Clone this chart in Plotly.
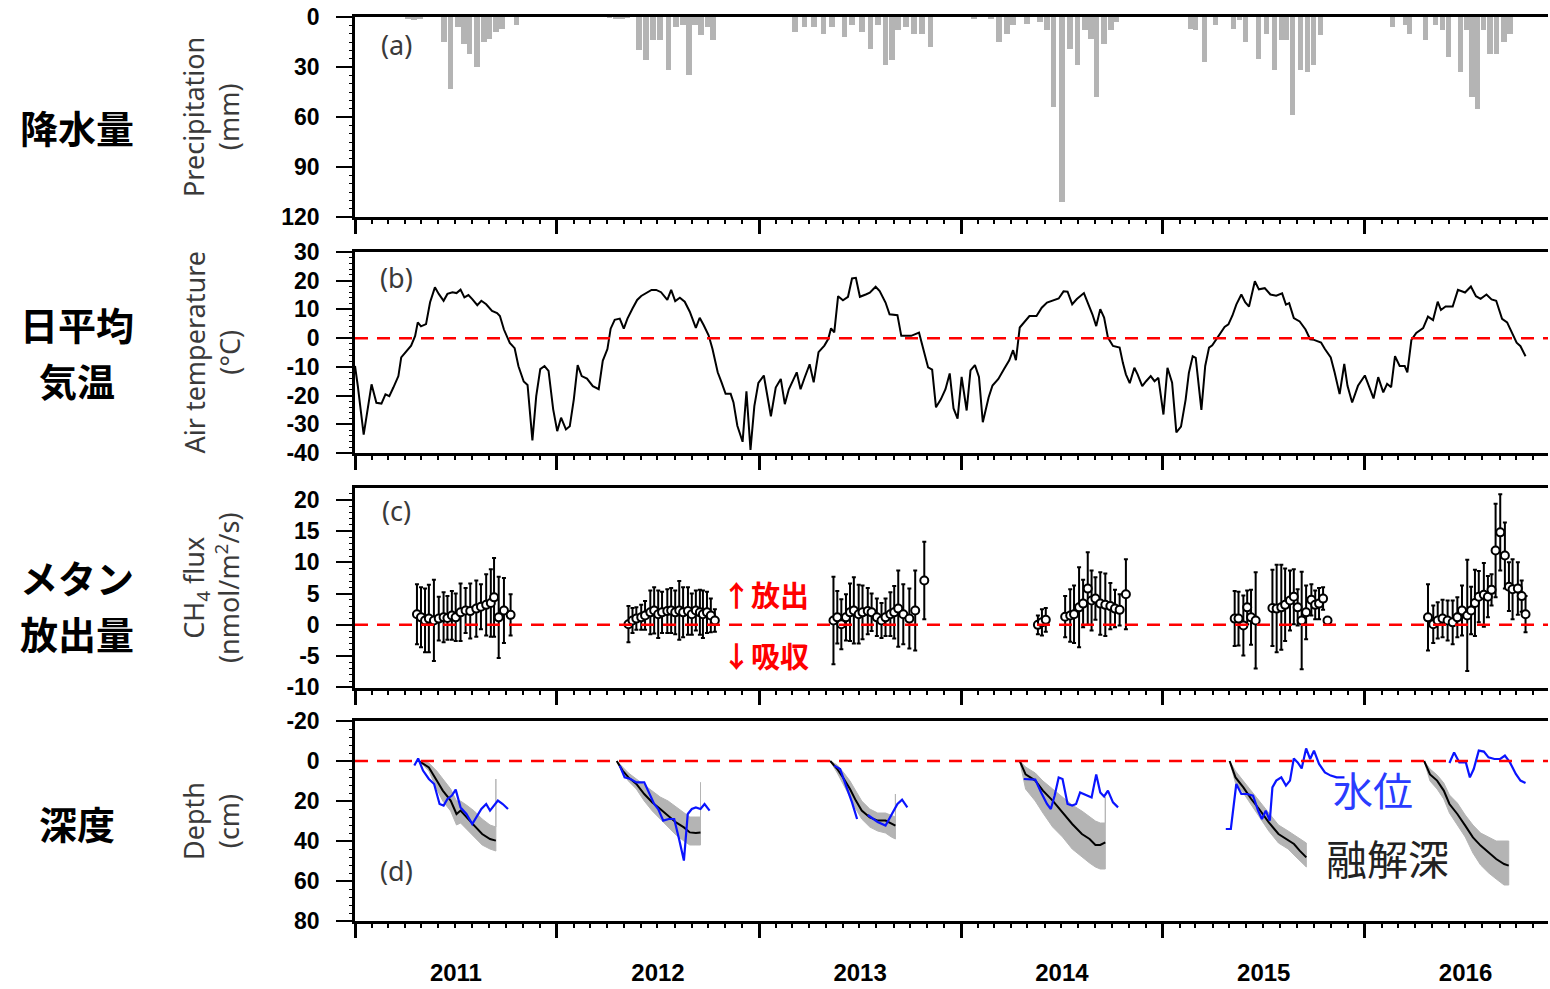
import pandas as pd
import plotly.graph_objects as go

# ---------------- (a) precipitation, 10-day totals (mm); x in decimal years
precip_x = [2011.262, 2011.292, 2011.322, 2011.441, 2011.475, 2011.510, 2011.540, 2011.569, 2011.604,
            2011.639, 2011.668, 2011.698, 2011.728, 2011.802,
            2012.262, 2012.292, 2012.322, 2012.351, 2012.406, 2012.441, 2012.475, 2012.510, 2012.550,
            2012.589, 2012.624, 2012.653, 2012.683, 2012.713, 2012.743, 2012.772,
            2013.178, 2013.223, 2013.272, 2013.317, 2013.361, 2013.421, 2013.460, 2013.510, 2013.550,
            2013.589, 2013.624, 2013.658, 2013.688, 2013.728, 2013.767, 2013.807, 2013.847,
            2014.064, 2014.149, 2014.188, 2014.228, 2014.257, 2014.327, 2014.391, 2014.426, 2014.460,
            2014.500, 2014.540, 2014.579, 2014.614, 2014.644, 2014.673, 2014.708, 2014.743, 2014.772,
            2015.139, 2015.163, 2015.208, 2015.262, 2015.351, 2015.381, 2015.411, 2015.475, 2015.515,
            2015.554, 2015.589, 2015.614, 2015.644, 2015.683, 2015.718, 2015.748, 2015.782,
            2016.139, 2016.203, 2016.223, 2016.302, 2016.351, 2016.386, 2016.416, 2016.475, 2016.505,
            2016.530, 2016.559, 2016.589, 2016.619, 2016.653, 2016.688, 2016.718]
precip_mm = [1, 1.5, 1, 15, 43, 6, 16, 22, 30, 15, 13, 9, 7, 5,
             0.5, 1, 1, 0.5, 20, 26, 14, 14, 32, 6, 5, 35, 5, 11, 6, 14,
             9, 6, 6, 10, 6, 12, 5, 9, 19, 5, 29, 26, 8, 6, 10, 10, 18,
             1, 1, 15, 10, 5, 4, 3, 8, 54, 111, 19, 29, 8, 13, 48, 16, 8, 3,
             7, 8, 27, 5, 7, 2, 15, 25, 10, 32, 14, 14, 59, 32, 33, 29, 11,
             6, 5, 10, 14, 5, 8, 24, 33, 8, 48, 55, 8, 22, 22, 15, 10]

# ---------------- (b) daily mean air temperature (deg C)
temp_x = [2011.000, 2011.014, 2011.043, 2011.063, 2011.082, 2011.106, 2011.131, 2011.151, 2011.170, 2011.190,
          2011.215, 2011.229, 2011.258, 2011.278, 2011.298, 2011.311, 2011.327, 2011.352, 2011.372, 2011.396,
          2011.415, 2011.439, 2011.458, 2011.483, 2011.503, 2011.523, 2011.542, 2011.562, 2011.581, 2011.606,
          2011.626, 2011.650, 2011.679, 2011.704, 2011.718, 2011.738, 2011.767, 2011.791, 2011.810, 2011.836,
          2011.855, 2011.879, 2011.898, 2011.918, 2011.939, 2011.959, 2011.982,
          2012.002, 2012.021, 2012.045, 2012.064, 2012.084, 2012.103, 2012.123, 2012.149, 2012.178, 2012.207,
          2012.227, 2012.250, 2012.266, 2012.286, 2012.311, 2012.331, 2012.349, 2012.374, 2012.397, 2012.417,
          2012.442, 2012.468, 2012.491, 2012.515, 2012.546, 2012.565, 2012.585, 2012.608, 2012.632, 2012.657,
          2012.687, 2012.706, 2012.726, 2012.750, 2012.769, 2012.795, 2012.814, 2012.834, 2012.859, 2012.873,
          2012.892, 2012.918, 2012.937, 2012.957, 2012.976, 2012.996,
          2013.023, 2013.058, 2013.082, 2013.107, 2013.127, 2013.147, 2013.186, 2013.205, 2013.225, 2013.250,
          2013.270, 2013.294, 2013.323, 2013.342, 2013.356, 2013.372, 2013.391, 2013.415, 2013.440, 2013.460,
          2013.479, 2013.499, 2013.528, 2013.548, 2013.577, 2013.597, 2013.626, 2013.646, 2013.685, 2013.704,
          2013.728, 2013.753, 2013.792, 2013.812, 2013.837, 2013.857, 2013.876, 2013.900, 2013.923, 2013.944,
          2013.963, 2013.983,
          2014.003, 2014.028, 2014.047, 2014.069, 2014.089, 2014.108, 2014.137, 2014.156, 2014.185, 2014.214,
          2014.239, 2014.258, 2014.272, 2014.291, 2014.316, 2014.339, 2014.374, 2014.400, 2014.426, 2014.458,
          2014.484, 2014.508, 2014.528, 2014.551, 2014.574, 2014.609, 2014.632, 2014.651, 2014.670, 2014.690,
          2014.709, 2014.728, 2014.753, 2014.786, 2014.802, 2014.817, 2014.836, 2014.859, 2014.875, 2014.898,
          2014.917, 2014.940, 2014.959, 2014.978,
          2015.003, 2015.023, 2015.046, 2015.067, 2015.090, 2015.113, 2015.129, 2015.148, 2015.163, 2015.191,
          2015.210, 2015.229, 2015.245, 2015.264, 2015.287, 2015.306, 2015.325, 2015.345, 2015.364, 2015.389,
          2015.408, 2015.427, 2015.456, 2015.476, 2015.505, 2015.533, 2015.562, 2015.591, 2015.610, 2015.626,
          2015.649, 2015.678, 2015.707, 2015.730, 2015.749, 2015.784, 2015.803, 2015.832, 2015.851, 2015.876,
          2015.899, 2015.915, 2015.938, 2015.967,
          2016.001, 2016.025, 2016.044, 2016.067, 2016.092, 2016.111, 2016.131, 2016.150, 2016.173, 2016.198,
          2016.211, 2016.231, 2016.255, 2016.289, 2016.313, 2016.338, 2016.361, 2016.377, 2016.400, 2016.435,
          2016.461, 2016.496, 2016.525, 2016.550, 2016.573, 2016.602, 2016.627, 2016.650, 2016.679, 2016.704,
          2016.728, 2016.751, 2016.770, 2016.795]
temp_c = [-9.7, -16.7, -33.6, -23.7, -16.1, -22.5, -22.8, -19.6, -20.2, -17.2,
          -13.2, -6.7, -4.4, -2.6, 0.8, 5.5, 4.1, 4.9, 12.5, 17.7,
          15.4, 13.0, 15.4, 16.0, 15.7, 16.9, 14.2, 15.0, 13.6, 11.5,
          13.0, 11.8, 9.5, 8.7, 7.7, 3.0, -1.7, -3.5, -9.8, -15.1,
          -16.3, -35.6, -20.2, -10.8, -9.7, -11.4, -24.8,
          -32.4, -27.7, -31.8, -30.7, -21.3, -9.4, -13.2, -14.1, -16.7, -17.8,
          -7.9, -3.8, 3.3, 6.4, 6.8, 3.3, 6.8, 10.3, 13.3, 14.7,
          15.6, 16.8, 16.8, 16.0, 13.3, 16.8, 12.9, 14.1, 12.7, 9.2,
          3.6, 7.1, 4.5, 1.0, -3.7, -11.9, -15.4, -19.4, -19.4, -22.4,
          -30.5, -36.1, -18.5, -38.9, -23.7, -15.6,
          -13.0, -27.2, -17.2, -14.2, -23.0, -17.8, -11.9, -17.8, -13.8, -9.1,
          -15.4, -4.9, -2.6, -0.3, 3.4, 2.0, 14.6, 13.2, 14.4, 20.8,
          21.0, 14.4, 15.2, 15.8, 17.9, 16.4, 12.4, 8.3, 8.0, 0.8,
          0.8, 0.8, 1.9, -3.8, -10.2, -11.0, -24.1, -21.3, -17.8, -12.3,
          -24.5, -28.0,
          -13.5, -25.2, -11.2, -9.4, -13.5, -29.3, -20.6, -16.5, -14.2, -10.7,
          -7.7, -4.2, -7.7, 3.7, 6.0, 7.7, 7.7, 10.6, 12.4, 13.2,
          13.8, 16.3, 16.2, 11.8, 13.6, 15.7, 11.8, 8.3, 4.2, 10.1,
          7.2, 0.2, -2.7, -3.3, -8.6, -12.6, -15.7, -10.3, -12.6, -16.7,
          -15.0, -13.2, -15.0, -13.8,
          -26.6, -10.3, -15.5, -32.8, -30.8, -21.4, -12.1, -6.3, -6.9, -25.0,
          -9.7, -3.3, -2.5, -0.5, 1.9, 3.9, 4.8, 7.9, 11.7, 15.2,
          12.5, 11.0, 19.8, 17.0, 17.4, 15.2, 14.8, 15.6, 11.7, 12.2,
          7.0, 5.8, 3.0, -0.4, -0.6, -1.5, -3.8, -6.7, -11.9, -19.5,
          -9.0, -16.6, -22.4, -16.6,
          -13.0, -17.1, -21.0, -13.6, -18.9, -15.9, -17.1, -6.3, -9.7, -9.7,
          -11.9, -0.6, 1.8, 3.5, 7.5, 6.3, 12.7, 9.8, 11.0, 11.0,
          16.8, 15.9, 18.0, 14.6, 13.7, 15.2, 13.5, 13.0, 6.7, 5.5,
          2.0, -1.6, -2.8, -6.3]

# ---------------- (c) CH4 flux: mean and standard deviation (nmol/m2/s)
flux_x = [2011.307, 2011.327, 2011.347, 2011.366, 2011.391, 2011.415, 2011.439, 2011.458, 2011.480, 2011.499,
          2011.523, 2011.548, 2011.571, 2011.601, 2011.624, 2011.650, 2011.673, 2011.689, 2011.712, 2011.738,
          2011.771,
          2012.354, 2012.374, 2012.393, 2012.417, 2012.436, 2012.462, 2012.481, 2012.501, 2012.520, 2012.546,
          2012.565, 2012.585, 2012.605, 2012.624, 2012.648, 2012.667, 2012.687, 2012.707, 2012.722, 2012.742,
          2012.761, 2012.781,
          2013.368, 2013.387, 2013.407, 2013.430, 2013.450, 2013.469, 2013.493, 2013.512, 2013.538, 2013.557,
          2013.583, 2013.606, 2013.626, 2013.650, 2013.669, 2013.689, 2013.714, 2013.744, 2013.773, 2013.818,
          2014.381, 2014.401, 2014.420, 2014.516, 2014.541, 2014.560, 2014.585, 2014.605, 2014.628, 2014.647,
          2014.666, 2014.690, 2014.715, 2014.740, 2014.763, 2014.786, 2014.817,
          2015.356, 2015.375, 2015.399, 2015.418, 2015.437, 2015.460, 2015.543, 2015.564, 2015.587, 2015.606,
          2015.630, 2015.649, 2015.668, 2015.688, 2015.710, 2015.736, 2015.755, 2015.774, 2015.794, 2015.816,
          2016.313, 2016.339, 2016.361, 2016.385, 2016.410, 2016.435, 2016.458, 2016.481, 2016.507, 2016.526,
          2016.545, 2016.564, 2016.589, 2016.609, 2016.627, 2016.647, 2016.670, 2016.693, 2016.713, 2016.731,
          2016.757, 2016.776, 2016.795]
flux_mean = [1.7, 1.2, 0.7, 1.0, 0.7, 1.0, 1.2, 1.1, 1.5, 1.2, 2.0, 2.3, 2.2, 2.6, 2.9, 3.2, 3.5, 4.4, 1.2, 2.3, 1.6,
             0.1, 0.7, 1.0, 1.2, 1.5, 2.0, 2.3, 1.7, 2.0, 2.2, 2.3, 2.0, 2.3, 2.0, 2.2, 1.7, 2.3, 2.0, 1.7, 2.0,
             1.5, 0.7,
             0.7, 1.2, 0.1, 1.2, 2.0, 2.3, 1.7, 2.0, 2.2, 2.0, 1.2, 0.7, 1.2, 1.7, 2.0, 2.6, 1.7, 1.0, 2.3, 7.1,
             0.0, 0.4, 0.8, 1.3, 1.5, 1.7, 2.8, 3.4, 5.8, 3.9, 4.2, 3.4, 3.2, 3.0, 2.6, 2.4, 4.9,
             1.0, 1.0, -0.1, 2.8, 1.2, 0.7, 2.7, 2.6, 2.8, 3.2, 3.9, 4.5, 2.8, 0.7, 2.0, 4.0, 3.2, 3.4, 4.2, 0.7,
             1.2, 0.1, 0.7, 1.0, 0.7, 0.4, 1.2, 2.3, 1.5, 2.3, 3.5, 4.5, 4.8, 4.5, 5.6, 11.9, 14.8, 11.1, 6.1,
             5.7, 5.8, 4.6, 1.7]
flux_sd = [4.8, 4.8, 5.1, 5.4, 6.5, 3.5, 4.0, 3.5, 3.9, 3.8, 4.6, 3.6, 4.4, 4.5, 3.6, 4.9, 5.4, 6.3, 6.5, 5.2, 3.3,
           2.9, 2.0, 1.8, 2.0, 2.3, 3.5, 3.7, 3.8, 3.3, 3.5, 3.6, 3.5, 4.7, 4.0, 3.8, 3.3, 3.2, 3.6, 3.8, 3.3,
           2.7, 1.8,
           7.0, 4.2, 4.0, 3.7, 4.6, 5.3, 4.7, 4.3, 3.7, 3.0, 3.0, 2.8, 3.0, 3.5, 4.2, 6.1, 4.8, 4.8, 6.4, 6.2,
           1.5, 2.1, 1.9, 3.3, 4.2, 4.6, 6.4, 3.8, 5.8, 4.8, 3.4, 5.0, 5.0, 3.7, 3.0, 2.5, 5.6,
           4.4, 4.3, 4.8, 2.7, 4.4, 7.7, 6.1, 7.0, 6.8, 5.8, 4.8, 4.4, 2.9, 7.8, 4.3, 2.5, 2.3, 2.5, 1.8, 0.0,
           5.3, 3.0, 2.9, 3.0, 3.2, 3.5, 3.2, 4.0, 8.9, 3.8, 5.3, 4.1, 5.1, 3.3, 2.5, 7.5, 6.1, 5.3, 3.9,
           4.8, 4.2, 2.5, 2.9]

# ---------------- (d) thaw depth: mean line with shallow/deep range (cm), one list per season
thaw_x = [
    [2011.317, 2011.366, 2011.405, 2011.435, 2011.474, 2011.503, 2011.523, 2011.552, 2011.591, 2011.630, 2011.669, 2011.698],
    [2012.296, 2012.325, 2012.354, 2012.393, 2012.432, 2012.472, 2012.511, 2012.550, 2012.589, 2012.628, 2012.657, 2012.687, 2012.710],
    [2013.352, 2013.387, 2013.420, 2013.450, 2013.479, 2013.508, 2013.548, 2013.587, 2013.626, 2013.655, 2013.675],
    [2014.291, 2014.320, 2014.368, 2014.406, 2014.454, 2014.503, 2014.551, 2014.599, 2014.637, 2014.666, 2014.690, 2014.715],
    [2015.331, 2015.360, 2015.399, 2015.438, 2015.477, 2015.525, 2015.573, 2015.621, 2015.650, 2015.678, 2015.711],
    [2016.294, 2016.323, 2016.358, 2016.391, 2016.419, 2016.458, 2016.497, 2016.535, 2016.573, 2016.613, 2016.650, 2016.689, 2016.712],
]
thaw_mean = [
    [0, 3.2, 9.8, 14.8, 19.8, 26.5, 24.8, 28.2, 32.3, 36.5, 39.0, 39.8],
    [0, 4.8, 8.2, 11.5, 16.5, 20.7, 24.0, 27.3, 30.7, 33.2, 35.7, 36.0, 35.7],
    [0, 4.0, 9.0, 14.0, 19.8, 24.8, 28.2, 29.8, 29.8, 31.5, 32.3],
    [0, 6.7, 9.8, 14.8, 19.8, 25.7, 31.5, 36.5, 39.0, 42.0, 42.0, 40.7],
    [0, 8.2, 13.2, 19.0, 24.0, 30.7, 36.5, 39.8, 41.5, 44.8, 48.2],
    [0, 6.7, 9.8, 14.8, 21.5, 26.5, 32.3, 38.2, 42.3, 45.7, 49.0, 51.5, 52.3],
]
thaw_shallow = [
    [0, 1, 5, 9, 14, 20, 20, 22, 25, 29, 32, 33],
    [0, 3, 6, 9, 12, 15, 18, 20, 23, 26, 28, 28, 28],
    [0, 2, 6, 10, 15, 20, 24, 26, 26, 27, 28],
    [0, 3, 6, 10, 14, 18, 22, 25, 28, 30, 31, 31],
    [0, 5, 10, 15, 20, 26, 32, 35, 37, 39, 41],
    [0, 4, 7, 11, 17, 21, 27, 32, 36, 38, 40, 40, 40],
]
thaw_deep = [
    [0, 5, 14, 20, 25, 32, 31, 34, 38, 42, 44, 45],
    [0, 6, 10, 14, 20, 25, 29, 33, 37, 40, 42, 42, 42],
    [0, 6, 12, 18, 24, 29, 33, 35, 36, 38, 39],
    [0, 14, 20, 26, 33, 38, 44, 48, 51, 53, 54, 54],
    [0, 11, 16, 22, 28, 35, 41, 44, 47, 50, 53],
    [0, 10, 14, 19, 26, 32, 38, 46, 52, 56, 59, 62, 62],
]
# shallowest probe reading on the last survey day of each season
thaw_last_shallow = [9, 10.7, 16.5, 18, None, None]

# water table depth (cm); None splits the record where data are missing
wt_x = [2011.294, 2011.313, 2011.337, 2011.366, 2011.392, 2011.419, 2011.439, 2011.458, 2011.480, 2011.499,
        2011.523, 2011.552, 2011.581, 2011.601, 2011.626, 2011.650, 2011.669, 2011.708, 2011.732, 2011.758, None,
        2012.311, 2012.335, 2012.364, 2012.393, 2012.432, 2012.481, 2012.501, 2012.526, 2012.553, 2012.580,
        2012.604, 2012.628, 2012.647, 2012.667, 2012.687, 2012.710, 2012.730, 2012.755, None,
        2013.372, 2013.401, 2013.430, 2013.460, 2013.485, None,
        2013.538, 2013.587, 2013.626, 2013.655, 2013.685, 2013.708, 2013.734, None,
        2014.311, 2014.368, 2014.397, 2014.426, 2014.445, 2014.464, 2014.484, 2014.503, 2014.528, 2014.551,
        2014.570, 2014.590, 2014.619, 2014.647, 2014.670, 2014.690, 2014.709, 2014.728, 2014.753, 2014.778, None,
        2015.312, 2015.337, 2015.364, 2015.389, 2015.418, 2015.447, 2015.472, 2015.491, 2015.510, 2015.530,
        2015.543, 2015.562, 2015.587, 2015.610, 2015.630, 2015.649, 2015.668, 2015.688, 2015.710, 2015.730,
        2015.749, 2015.774, 2015.803, 2015.832, 2015.861, 2015.900, None,
        2016.419, 2016.442, 2016.468, 2016.500, 2016.520, 2016.539, 2016.564, 2016.589, 2016.612, 2016.641,
        2016.670, 2016.693, 2016.718, 2016.747, 2016.770, 2016.795]
wt_cm = [2.3, -1.3, 4.8, 9.0, 11.5, 21.5, 22.3, 19.0, 17.3, 14.3,
         23.2, 26.5, 31.5, 28.2, 24.0, 21.5, 24.8, 19.8, 21.5, 24.0, None,
         2.3, 8.2, 9.0, 10.7, 10.7, 21.5, 24.0, 29.8, 29.0, 29.0,
         39.0, 49.8, 26.5, 24.0, 23.2, 24.0, 21.5, 24.8, None,
         2.3, 4.0, 12.3, 20.7, 29.0, None,
         27.0, 30.5, 32.3, 27.3, 21.5, 19.3, 23.2, None,
         9.0, 9.3, 15.7, 21.5, 24.0, 17.3, 8.2, 9.0, 21.5, 22.3,
         21.5, 15.7, 17.0, 18.2, 6.7, 15.7, 17.7, 14.8, 20.7, 23.2, None,
         34.0, 34.0, 11.5, 16.5, 16.5, 17.3, 24.8, 29.0, 24.8, 29.8,
         13.2, 9.8, 8.2, 12.3, 9.8, -1.3, 0.7, 3.7, -6.3, -1.0,
         -5.2, 1.5, 5.7, 7.3, 8.2, 8.2, None,
         1.0, -4.3, 0.7, 0.7, 8.2, 4.0, -5.2, -4.7, -1.8, -1.0,
         -1.0, -2.7, 0.7, 6.5, 9.8, 11.0]

# axis tick labels
precip_ticks = [0, 30, 60, 90, 120]
temp_ticks = [30, 20, 10, 0, -10, -20, -30, -40]
flux_ticks = [20, 15, 10, 5, 0, -5, -10]
depth_ticks = [-20, 0, 20, 40, 60, 80]


def to_date(v):
    """Decimal year -> timestamp (None stays None)."""
    if v is None:
        return None
    yr = int(v)
    start = pd.Timestamp(yr, 1, 1)
    ndays = (pd.Timestamp(yr + 1, 1, 1) - start).days
    return start + pd.Timedelta(days=(v - yr) * ndays)


def dates(values):
    return [to_date(v) for v in values]


W, H = 1550, 989
X0, X1 = 355 / W, 1548 / W
panels = [(17, 217), (252, 453), (488, 688), (721, 921)]   # top/bottom pixel rows
doms = [[1 - b / H, 1 - t / H] for t, b in panels]

BAR_GRAY = "#b4b4b4"
BLUE = "#0a14ff"
TICK_FONT = dict(family="Liberation Sans, Arial, sans-serif", size=23, color="black", weight="bold")
TITLE_FONT = dict(family="Noto Sans, sans-serif", size=27, color="#3a3a3a")
JP_FONT = dict(family="Noto Sans CJK JP, sans-serif", size=38, color="black", weight="bold")

fig = go.Figure()

# (a) precipitation bars hanging from the top axis
fig.add_trace(go.Bar(x=dates(precip_x), y=precip_mm, marker=dict(color=BAR_GRAY, line=dict(width=0)),
                     width=9.5 * 86400000, xaxis="x", yaxis="y", showlegend=False))

# (b) air temperature
fig.add_trace(go.Scatter(x=dates(temp_x), y=temp_c, mode="lines", line=dict(color="black", width=2),
                         xaxis="x2", yaxis="y2", showlegend=False))

# (c) CH4 flux with SD error bars
fig.add_trace(go.Scatter(x=dates(flux_x), y=flux_mean, mode="markers",
                         marker=dict(symbol="circle", size=8, color="white", line=dict(color="black", width=2)),
                         error_y=dict(type="data", array=flux_sd, visible=True, color="black", thickness=2, width=2),
                         xaxis="x3", yaxis="y3", showlegend=False))

# (d) thaw-depth range, mean thaw depth and water table
for xs, sh, dp, last in zip(thaw_x, thaw_shallow, thaw_deep, thaw_last_shallow):
    px = list(xs)
    py = list(sh)
    if last is not None:
        px.append(xs[-1])
        py.append(last)
    px += xs[::-1]
    py += dp[::-1]
    fig.add_trace(go.Scatter(x=dates(px), y=py, mode="lines", fill="toself", fillcolor=BAR_GRAY,
                             line=dict(color=BAR_GRAY, width=1), xaxis="x4", yaxis="y4",
                             showlegend=False, hoverinfo="skip"))
for xs, mean in zip(thaw_x, thaw_mean):
    fig.add_trace(go.Scatter(x=dates(xs), y=mean, mode="lines", line=dict(color="black", width=2),
                             xaxis="x4", yaxis="y4", showlegend=False))
fig.add_trace(go.Scatter(x=dates(wt_x), y=wt_cm, mode="lines", line=dict(color=BLUE, width=2.2),
                         connectgaps=False, xaxis="x4", yaxis="y4", showlegend=False))

x_range = [to_date(2011.0), to_date(2016.906)]
yr_specs = [
    dict(range=[120, 0], tickvals=precip_ticks, minor=5),
    dict(range=[-40, 30], tickvals=temp_ticks, minor=2),
    dict(range=[-10.1, 21.9], tickvals=flux_ticks, minor=1),
    dict(range=[80, -20], tickvals=depth_ticks, minor=4),
]

layout = dict(width=W, height=H, margin=dict(l=0, r=0, t=0, b=0, autoexpand=False),
              paper_bgcolor="white", plot_bgcolor="white", bargap=0, showlegend=False)
for i in range(4):
    sx = "" if i == 0 else str(i + 1)
    layout["xaxis" + sx] = dict(
        type="date", domain=[X0, X1], anchor="y" + sx, range=x_range, automargin=False,
        showline=True, linecolor="black", linewidth=2.5, mirror=True,
        ticks="outside", ticklen=14, tickwidth=2.5, tickcolor="black",
        tick0="2011-01-01", dtick="M12", tickformat="%Y", ticklabelmode="period",
        minor=dict(dtick="M1", ticks="outside", ticklen=4, tickwidth=1.5, tickcolor="black"),
        showgrid=False, zeroline=False, showticklabels=(i == 3),
        tickfont=dict(family="Liberation Sans, Arial, sans-serif", size=24, color="black", weight="bold"),
        ticklabelstandoff=14,
    )
    spec = yr_specs[i]
    layout["yaxis" + sx] = dict(
        domain=doms[i], anchor="x" + sx, range=spec["range"], automargin=False,
        tickvals=spec["tickvals"], ticktext=[str(v) for v in spec["tickvals"]],
        showline=True, linecolor="black", linewidth=2.5, mirror=False,
        ticks="outside", ticklen=16, tickwidth=2, tickcolor="black",
        minor=dict(dtick=spec["minor"], ticks="outside", ticklen=3, tickwidth=1, tickcolor="black"),
        showgrid=False, zeroline=False, tickfont=TICK_FONT, ticklabelstandoff=12,
    )
fig.update_layout(**layout)

# zero reference lines
for sx in ["2", "3", "4"]:
    fig.add_shape(type="line", xref="x" + sx + " domain", x0=0, x1=1, yref="y" + sx, y0=0, y1=0,
                  line=dict(color="red", width=2.5, dash="13px,9px"), layer="above")

# axis titles
titles = ["Precipitation<br>(mm)", "Air temperature<br>(°C)",
          "CH<sub>4</sub> flux<br>(nmol/m<sup>2</sup>/s)", "Depth<br>(cm)"]
for (t, b), txt in zip(panels, titles):
    fig.add_annotation(text=txt, xref="paper", yref="paper", x=211 / W, y=1 - (t + b) / 2 / H,
                       textangle=-90, showarrow=False, font=TITLE_FONT, xanchor="center", yanchor="middle")

# Japanese row labels (one annotation per line)
jp_labels = [("降水量", 127), ("日平均", 323), ("気温", 379), ("メタン", 576), ("放出量", 632), ("深度", 822)]
for txt, yc in jp_labels:
    fig.add_annotation(text=txt, xref="paper", yref="paper", x=77 / W, y=1 - yc / H, showarrow=False,
                       font=JP_FONT, xanchor="center", yanchor="middle", align="center")

# panel letters
for letter, yc in zip(["(a)", "(b)", "(c)", "(d)"], [44, 277, 511, 870]):
    fig.add_annotation(text=letter, xref="paper", yref="paper", x=397 / W, y=1 - yc / H, showarrow=False,
                       font=dict(family="Noto Sans, sans-serif", size=27, color="#3a3a3a"),
                       xanchor="center", yanchor="middle")

# emission / uptake notes in (c)
red_font = dict(family="Noto Sans CJK JP, sans-serif", size=29, color="#ff0000", weight="bold")
fig.add_annotation(text="↑放出", xref="paper", yref="paper", x=765 / W, y=1 - 594 / H,
                   showarrow=False, font=red_font, xanchor="center", yanchor="middle")
fig.add_annotation(text="↓吸収", xref="paper", yref="paper", x=765 / W, y=1 - 655 / H,
                   showarrow=False, font=red_font, xanchor="center", yanchor="middle")

# series names in (d)
fig.add_annotation(text="水位", xref="paper", yref="paper", x=1373 / W, y=1 - 789 / H, showarrow=False,
                   font=dict(family="Noto Sans CJK JP, sans-serif", size=40, color="#2a3cff"),
                   xanchor="center", yanchor="middle")
fig.add_annotation(text="融解深", xref="paper", yref="paper", x=1387 / W, y=1 - 857 / H, showarrow=False,
                   font=dict(family="Noto Sans CJK JP, sans-serif", size=41, color="#222222"),
                   xanchor="center", yanchor="middle")

fig.write_html("out.html")
